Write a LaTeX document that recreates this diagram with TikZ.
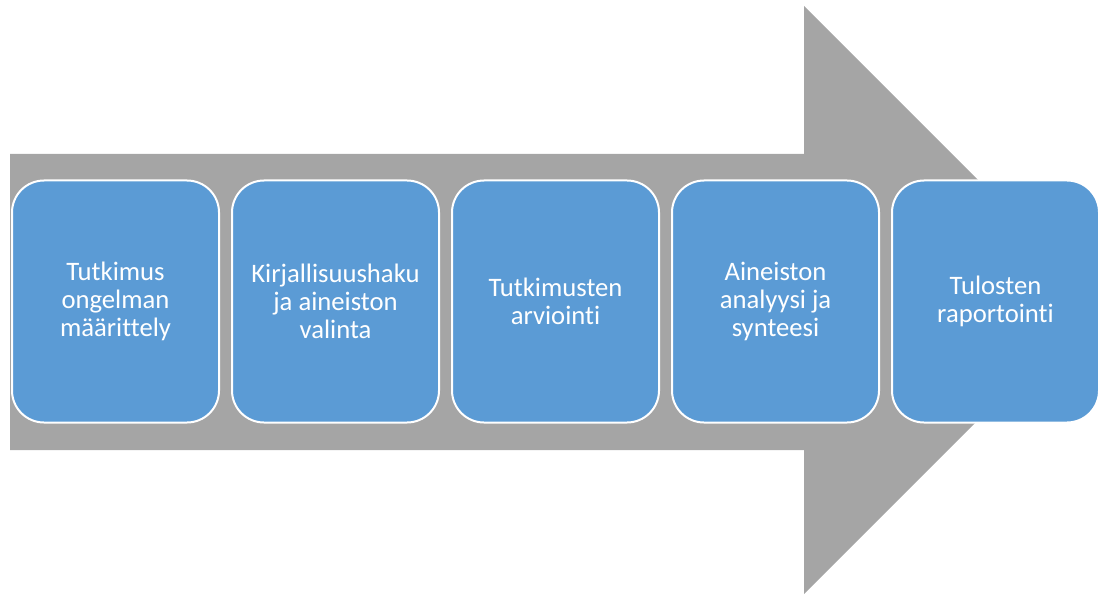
\documentclass[tikz,border=0pt]{standalone}
\usepackage{fontspec}
\setmainfont{Carlito}[Ligatures=NoCommon]
\usetikzlibrary{positioning}
\definecolor{stepblue}{HTML}{5B9BD5}
\definecolor{arrowgray}{HTML}{A5A5A5}
\tikzset{
  stepbox/.style={draw=white, line width=1.5pt, fill=stepblue, rounded corners=24pt,
    minimum width=155.25pt, minimum height=181.5pt, align=center, text=white,
    font=\fontsize{20}{21}\selectfont, inner sep=0pt},
}

\begin{document}
\begin{tikzpicture}[x=0.75pt, y=-0.75pt, node distance=8.25pt]

\useasboundingbox (0,0) rectangle (1098,595);

% Big arrow behind the steps
\fill[arrowgray] (10,154) -- (804,154) -- (804,6) -- (1098,300) -- (804,594) -- (804,450) -- (10,450) -- cycle;

% Define nodes

\node[stepbox]                 (ongelma) at (115.5,301.5) {Tutkimus\\ongelman\\määrittely};
\node[stepbox, right=of ongelma]  (haku)     {Kirjallisuushaku\\ja aineiston\\valinta};
\node[stepbox, right=of haku]     (arvio)    {Tutkimusten\\arviointi};
\node[stepbox, right=of arvio]    (analyysi) {Aineiston\\analyysi ja\\synteesi};
\node[stepbox, right=of analyysi] (raportti) {Tulosten\\raportointi};

\end{tikzpicture}
\end{document}
